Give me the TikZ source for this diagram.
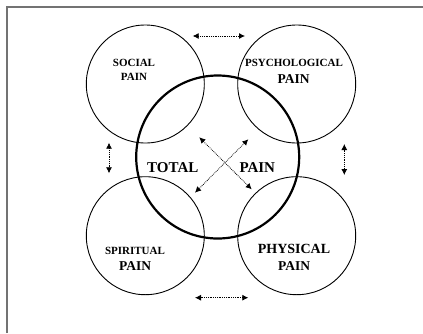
\documentclass[tikz,border=0pt]{standalone}
\usepackage{fontspec}
\setmainfont{Liberation Serif}
\usetikzlibrary{arrows.meta}

\begin{document}
\begin{tikzpicture}[x=1pt, y=-1pt, >={Latex[length=6pt,width=6pt]},
    pain/.style={draw, circle, line width=0.9pt, minimum size=118pt, inner sep=0pt},
    total/.style={draw, circle, line width=2.2pt, minimum size=163pt, inner sep=0pt},
    link/.style={<->, densely dotted, line width=0.8pt},
    small/.style={font=\bfseries\fontsize{11}{12}\selectfont, inner sep=0pt},
    big/.style={font=\bfseries\fontsize{13.5}{15}\selectfont, inner sep=0pt}]

    \useasboundingbox (0,0) rectangle (423,333);

    % Frame
    \draw[gray!90!black, line width=2pt] (6.5,333) -- (6.5,6.5) -- (423,6.5);

    % Outer circles
    \node[pain] (social) at (145.3, 84) {};
    \node[pain] (psych) at (296.7, 84) {};
    \node[pain] (spirit) at (145.3, 235.7) {};
    \node[pain] (physic) at (296.7, 235.7) {};

    % Centre circle
    \node[total] (total) at (217.7, 157) {};

    % Circle labels
    \node[small] (social-1) at (134, 63.3) {SOCIAL};
    \node[small] (social-2) at (134, 76.7) {PAIN};
    \node[small] (psych-1) at (294, 63.3) {PSYCHOLOGICAL};
    \node[big] (psych-2) at (293.7, 79) {PAIN};
    \node[small] (spirit-1) at (135, 250.7) {SPIRITUAL};
    \node[big] (spirit-2) at (135, 265.7) {PAIN};
    \node[big, font=\bfseries\fontsize{14}{16}\selectfont] (physic-1) at (294, 249.3) {PHYSICAL};
    \node[big] (physic-2) at (294, 265.7) {PAIN};
    \node[big, font=\bfseries\fontsize{15}{17}\selectfont] (total-1) at (172.8, 167.7) {TOTAL};
    \node[big, font=\bfseries\fontsize{15}{17}\selectfont] (total-2) at (257.3, 167.7) {PAIN};

    % Arrow ends
    \coordinate (top-l) at (192.7, 36);
    \coordinate (top-r) at (245, 36);
    \coordinate (bot-l) at (195, 297.7);
    \coordinate (bot-r) at (248.3, 297.7);
    \coordinate (left-t) at (109, 142.7);
    \coordinate (left-b) at (109, 173.3);
    \coordinate (right-t) at (344.3, 144);
    \coordinate (right-b) at (344.3, 175);
    \coordinate (diag-a) at (199.3, 137.3);
    \coordinate (diag-b) at (251.7, 189.3);
    \coordinate (diag-c) at (248.3, 139.3);
    \coordinate (diag-d) at (195, 192.7);

    % Links
    \draw[link] (top-l) -- (top-r);
    \draw[link] (bot-l) -- (bot-r);
    \draw[link] (left-t) -- (left-b);
    \draw[link] (right-t) -- (right-b);
    \draw[link] (diag-a) -- (diag-b);
    \draw[link] (diag-c) -- (diag-d);

\end{tikzpicture}
\end{document}
